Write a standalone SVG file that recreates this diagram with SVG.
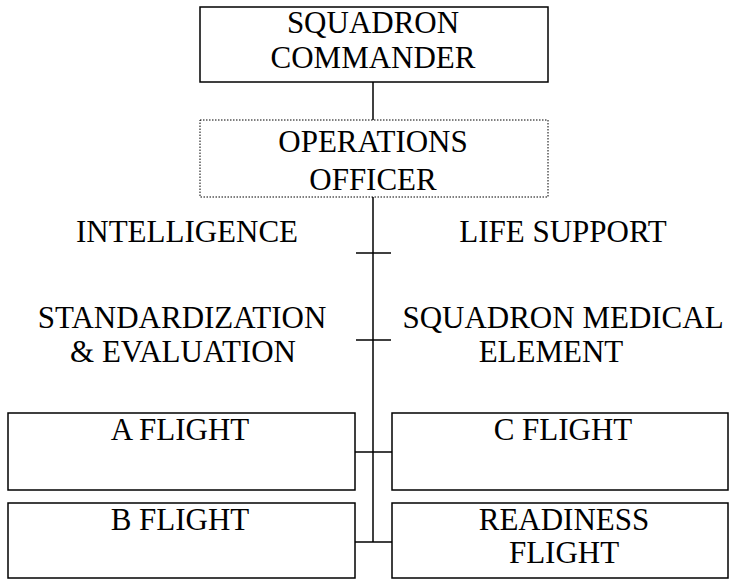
<svg xmlns="http://www.w3.org/2000/svg" width="730" height="580" viewBox="0 0 730 580">
<style>
.box{fill:#fff;stroke:#000;stroke-width:1.5}
.dot{fill:#fff;stroke:#000;stroke-width:1;stroke-dasharray:1.5 1.5}
.ln{stroke:#000;stroke-width:1.5;fill:none}
</style>
<rect width="730" height="580" fill="#fff"/>
<g id="connectors">
<line class="ln" x1="373" y1="82" x2="373" y2="120"/>
<line class="ln" x1="373" y1="197" x2="373" y2="542"/>
<line class="ln" x1="356" y1="253" x2="391" y2="253"/>
<line class="ln" x1="356" y1="340" x2="391" y2="340"/>
<line class="ln" x1="355" y1="452" x2="392" y2="452"/>
<line class="ln" x1="355" y1="542" x2="392" y2="542"/>
</g>
<g id="commander">
<rect class="box" x="200" y="7" width="348" height="75"/>
<text x="373" y="33" font-family="Liberation Serif" font-size="31" text-anchor="middle">SQUADRON</text>
<text x="373" y="68" font-family="Liberation Serif" font-size="31" text-anchor="middle">COMMANDER</text>
</g>
<g id="operations">
<rect class="dot" x="200" y="120" width="348" height="77"/>
<text x="373" y="152" font-family="Liberation Serif" font-size="31" text-anchor="middle">OPERATIONS</text>
<text x="373" y="190" font-family="Liberation Serif" font-size="31" text-anchor="middle">OFFICER</text>
</g>
<g id="intelligence">
<text x="187" y="242" font-family="Liberation Serif" font-size="31" text-anchor="middle">INTELLIGENCE</text>
</g>
<g id="lifesupport">
<text x="563" y="242" font-family="Liberation Serif" font-size="31" text-anchor="middle">LIFE SUPPORT</text>
</g>
<g id="stanEval">
<text x="182" y="328" font-family="Liberation Serif" font-size="31" text-anchor="middle">STANDARDIZATION</text>
<text x="183" y="362" font-family="Liberation Serif" font-size="31" text-anchor="middle">&amp; EVALUATION</text>
</g>
<g id="medical">
<text x="563" y="328" font-family="Liberation Serif" font-size="31" text-anchor="middle">SQUADRON MEDICAL</text>
<text x="551" y="362" font-family="Liberation Serif" font-size="31" text-anchor="middle">ELEMENT</text>
</g>
<g id="aflight">
<rect class="box" x="8" y="413" width="347" height="77"/>
<text x="180" y="440" font-family="Liberation Serif" font-size="31" text-anchor="middle">A FLIGHT</text>
</g>
<g id="cflight">
<rect class="box" x="392" y="413" width="336" height="77"/>
<text x="563" y="440" font-family="Liberation Serif" font-size="31" text-anchor="middle">C FLIGHT</text>
</g>
<g id="bflight">
<rect class="box" x="8" y="503" width="347" height="75"/>
<text x="180" y="530" font-family="Liberation Serif" font-size="31" text-anchor="middle">B FLIGHT</text>
</g>
<g id="readiness">
<rect class="box" x="392" y="503" width="336" height="75"/>
<text x="564" y="530" font-family="Liberation Serif" font-size="31" text-anchor="middle">READINESS</text>
<text x="564" y="563" font-family="Liberation Serif" font-size="31" text-anchor="middle">FLIGHT</text>
</g>
</svg>
